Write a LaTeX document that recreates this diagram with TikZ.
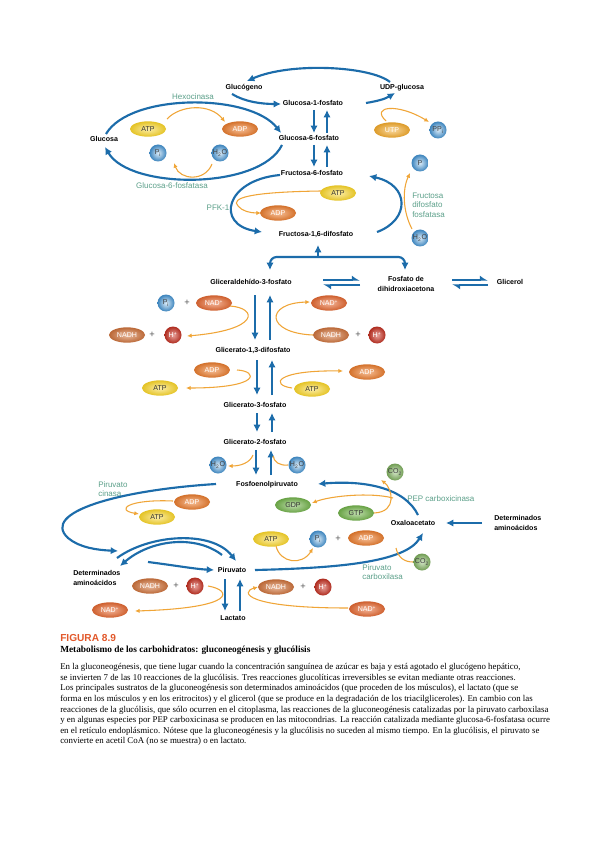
\documentclass[tikz,border=0pt]{standalone}
\usepackage{fontspec}
\setmainfont{Liberation Serif}
\newfontfamily\arialf{Liberation Sans}
\usetikzlibrary{arrows.meta,shapes.geometric}
\definecolor{bblue}{RGB}{28,108,170}
\definecolor{oline}{RGB}{240,165,55}
\definecolor{enzg}{RGB}{92,160,138}
\definecolor{cyel}{RGB}{248,212,40}
\definecolor{cora}{RGB}{240,128,48}
\definecolor{cnadh}{RGB}{212,118,62}
\definecolor{cnad}{RGB}{234,108,52}
\definecolor{cred}{RGB}{205,50,35}
\definecolor{cblu}{RGB}{70,155,222}
\definecolor{cgrn}{RGB}{118,184,78}
\definecolor{cco}{RGB}{132,184,98}
\definecolor{cutp}{RGB}{245,172,45}
\definecolor{figred}{RGB}{226,88,42}
\newcommand\labfont{\arialf\bfseries\fontsize{5.3}{6.2}\selectfont}
\newcommand\labfontm{\arialf\bfseries\fontsize{5.3}{7.5}\selectfont}
\newcommand\enzfont{\arialf\fontsize{6}{7.2}\selectfont}
\newcommand\molfont{\arialf\fontsize{5.3}{6}\selectfont}
\newcommand\capfont{\fontsize{6.65}{8}\selectfont}
\tikzset{
  lab/.style={font=\labfont, inner sep=1pt, text height=4pt, text depth=1pt},
  labm/.style={font=\labfontm, inner sep=0pt, align=left},
  enz/.style={font=\enzfont, text=enzg, inner sep=0pt, align=left},
  ba/.style={draw=bblue, line width=1.6pt, -{Latex[length=5.5pt,width=5.5pt]}},
  bl/.style={draw=bblue, line width=1.6pt},
  oa/.style={draw=oline, line width=0.8pt, -{Latex[length=3.5pt,width=3.2pt]}},
  ol/.style={draw=oline, line width=0.8pt},
  harp/.style={draw=bblue, line width=1.3pt, -{Latex[harpoon,length=5pt,width=7pt]}},
  mol/.style={ellipse, minimum width=27pt, minimum height=11.5pt, inner sep=0pt, font=\molfont},
  yel/.style={mol, shade, inner color=cyel!40!white, outer color=cyel!92!black, text=black!80},
  ora/.style={mol, shade, inner color=cora!50!white, outer color=cora!88!black, text=white},
  utpst/.style={mol, shade, inner color=cutp!45!white, outer color=cutp!90!black, text=white},
  nadh/.style={mol, shade, inner color=cnadh!50!white, outer color=cnadh!88!black, text=white},
  nad/.style={mol, shade, inner color=cnad!50!white, outer color=cnad!88!black, text=white},
  grn/.style={mol, shade, inner color=cgrn!45!white, outer color=cgrn!88!black, text=black!80},
  molball/.style={circle, minimum size=12.75pt, inner sep=0pt, font=\molfont},
  bb/.style={molball, shade, inner color=cblu!20!white, outer color=cblu!85!black, text=black!75},
  rb/.style={molball, shade, inner color=cred!45!white, outer color=cred!85!black, text=white},
  gb/.style={molball, shade, inner color=cco!35!white, outer color=cco!85!black, text=black!75},
  plussign/.style={font=\arialf\fontsize{7}{8}\selectfont, text=black!65, inner sep=0pt},
  capl/.style={font=\capfont, anchor=base west, inner sep=0pt},
}
\begin{document}
\begin{tikzpicture}[x=0.75pt,y=-0.75pt]
\useasboundingbox (0,0) rectangle (599,848);
\fill[white] (0,0) rectangle (599,848);

% ---------- main labels
\node[lab] (glucogeno) at (244,88) {Glucógeno};
\node[lab] (udp) at (402,88) {UDP-glucosa};
\node[lab] (g1p) at (313,104) {Glucosa-1-fosfato};
\node[lab] (glc) at (104,140) {Glucosa};
\node[lab] (g6p) at (309,139) {Glucosa-6-fosfato};
\node[lab] (f6p) at (312,174) {Fructosa-6-fosfato};
\node[lab] (f16) at (316,235) {Fructosa-1,6-difosfato};
\node[lab] (g3p) at (251,282) {Gliceraldehído-3-fosfato};
\node[labm, align=center] (dhap) at (406,284) {Fosfato de\\dihidroxiacetona};
\node[lab] (glicerol) at (510,283) {Glicerol};
\node[lab] (g13) at (253,350) {Glicerato-1,3-difosfato};
\node[lab] (g3) at (255,405) {Glicerato-3-fosfato};
\node[lab] (g2) at (255,442) {Glicerato-2-fosfato};
\node[lab] (pep) at (267,484) {Fosfoenolpiruvato};
\node[lab] (oaa) at (413,523) {Oxaloacetato};
\node[labm, anchor=west] (detr) at (494,523) {Determinados\\aminoácidos};
\node[labm, anchor=west] (detl) at (73,578) {Determinados\\aminoácidos};
\node[lab] (pir) at (232,570) {Piruvato};
\node[lab] (lac) at (233,618) {Lactato};

% ---------- enzymes
\node[enz] (hexo) at (193,97) {Hexocinasa};
\node[enz] (g6pase) at (172,186) {Glucosa-6-fosfatasa};
\node[enz] (pfk) at (218,208) {PFK-1};
\node[enz, anchor=west] (fbp) at (412,205) {Fructosa\\difosfato\\fosfatasa};
\node[enz, anchor=west] (pk) at (98,489) {Piruvato\\cinasa};
\node[enz, anchor=west] (pepck) at (407,499) {PEP carboxicinasa};
\node[enz, anchor=west] (pc) at (362,572) {Piruvato\\carboxilasa};

% ---------- molecules
\node[yel] (atp1) at (148,129) {ATP};
\node[ora] (adp1) at (240,129) {ADP};
\node[bb] (pi1) at (158,153) {P\textsubscript{i}};
\node[bb] (h2o1) at (220,153) {H\textsubscript{2}O};
\node[utpst] (utp) at (392,130) {UTP};
\node[bb] (ppi) at (438,130) {PP\textsubscript{i}};
\node[bb] (p2) at (420,163) {P};
\node[yel] (atp2) at (338,193) {ATP};
\node[ora] (adp2) at (278,213) {ADP};
\node[bb] (h2o2) at (420,238) {H\textsubscript{2}O};

\node[bb] (pi3) at (166,303) {P\textsubscript{i}};
\node[plussign] (pl1) at (187,303) {+};
\node[nad] (nad1) at (214,303) {NAD\textsuperscript{+}};
\node[nadh] (nadh1) at (127,335) {NADH};
\node[plussign] (pl2) at (152,335) {+};
\node[rb] (h1) at (173,335) {H\textsuperscript{+}};
\node[nad] (nad2) at (329,303) {NAD\textsuperscript{+}};
\node[nadh] (nadh2) at (331,335) {NADH};
\node[plussign] (pl3) at (358,335) {+};
\node[rb] (h2) at (377,335) {H\textsuperscript{+}};

\node[ora] (adp3) at (212,370) {ADP};
\node[yel] (atp3) at (160,388) {ATP};
\node[yel] (atp4) at (312,389) {ATP};
\node[ora] (adp4) at (367,372) {ADP};

\node[bb] (h2o3) at (218,465) {H\textsubscript{2}O};
\node[bb] (h2o4) at (297,465) {H\textsubscript{2}O};

\node[gb] (co2a) at (395,472) {CO\textsubscript{2}};
\node[grn] (gdp) at (293,505) {GDP};
\node[grn] (gtp) at (356,513) {GTP};
\node[ora] (adp5) at (192,502) {ADP};
\node[yel] (atp5) at (157,517) {ATP};
\node[yel] (atp6) at (271,539) {ATP};
\node[bb] (pi6) at (318,539) {P\textsubscript{i}};
\node[plussign] (pl4) at (338,539) {+};
\node[ora] (adp6) at (366,538) {ADP};
\node[gb] (co2b) at (422,562) {CO\textsubscript{2}};

\node[nadh] (nadh3) at (150,586) {NADH};
\node[plussign] (pl5) at (176,586) {+};
\node[rb] (h3) at (195,586) {H\textsuperscript{+}};
\node[nad] (nad3) at (110,610) {NAD\textsuperscript{+}};
\node[nadh] (nadh4) at (276,587) {NADH};
\node[plussign] (pl6) at (303,587) {+};
\node[rb] (h4) at (323,587) {H\textsuperscript{+}};
\node[nad] (nad4) at (367,609) {NAD\textsuperscript{+}};

% ---------- blue connectors, top
\draw[ba] (390,82) .. controls (370,66) and (290,62) .. (247,81);
\draw[ba] (232,94) .. controls (245,102) and (262,104) .. (281,104);
\draw[ba] (366,103) .. controls (378,101) and (385,99) .. (395,93);
\draw[ba] (106,134) .. controls (130,93) and (250,93) .. (281,133);
\draw[ba] (282,145) .. controls (260,190) and (130,190) .. (105,147);
\draw[ba] (314,110) -- (314,133);
\draw[ba] (327,133) -- (327,110);
\draw[ba] (314,145) -- (314,167);
\draw[ba] (327,167) -- (327,145);
\draw[ba] (280,175) .. controls (225,180) and (215,225) .. (262,232);
\draw[ba] (377,232) .. controls (410,220) and (410,185) .. (369,176);
\draw[ba] (318,257) -- (318,245);
\draw[bl, rounded corners=5pt, {Latex[length=5.5pt,width=5.5pt]}-{Latex[length=5.5pt,width=5.5pt]}] (270,270) -- (270,257) -- (405,257) -- (405,270);
\draw[harp] (323,280) -- (360,280);
\draw[harp] (360,285) -- (323,285);
\draw[harp] (452,280) -- (488,280);
\draw[harp] (488,285) -- (452,285);
\draw[ba] (255,295) -- (255,340);
\draw[ba] (270,340) -- (270,295);
\draw[ba] (257,360) -- (257,395);
\draw[ba] (272,395) -- (272,360);
\draw[ba] (257,413) -- (257,432);
\draw[ba] (272,432) -- (272,413);
\draw[ba] (256,450) -- (256,475);
\draw[ba] (271,475) -- (271,450);
\draw[ba] (225,579) -- (225,611);
\draw[ba] (240,611) -- (240,579);

% ---------- blue connectors, bottom
\draw[ba] (216,484) .. controls (120,490) and (40,512) .. (68,538) .. controls (80,548) and (98,550) .. (118,551);
\draw[ba] (117,558) .. controls (150,534) and (212,530) .. (236,561);
\draw[ba] (222,555) .. controls (195,534) and (150,540) .. (120,566);
\draw[ba] (148,562) .. controls (172,565) and (195,569) .. (214,570);
\draw[ba] (255,570) .. controls (340,568) and (405,562) .. (423,533);
\draw[ba] (418,515) .. controls (405,488) and (365,480) .. (318,484);
\draw[ba] (482,523) -- (446,523);

% ---------- orange connectors
\draw[oa] (167,119) .. controls (180,105) and (210,103) .. (225,122);
\draw[oa] (212,164) .. controls (205,182) and (180,180) .. (174,163);
\draw[oa] (386,121) .. controls (370,106) and (398,103) .. (429,122);
\draw[oa] (321,191) .. controls (250,192) and (230,198) .. (238,206) .. controls (242,211) and (250,213) .. (261,213);
\draw[oa] (412,229) .. controls (403,212) and (402,190) .. (410,173);
\draw[oa] (230,306) .. controls (258,308) and (260,330) .. (187,336);
\draw[oa] (313,335) .. controls (265,333) and (265,303) .. (310,302);
\draw[oa] (237,370) .. controls (258,371) and (262,388) .. (186,388);
\draw[oa] (292,388) .. controls (270,385) and (275,370) .. (343,371);
\draw[oa] (253,455) .. controls (250,463) and (240,466) .. (228,466);
\draw[ol] (288,465) .. controls (280,466) and (274,462) .. (273,456);
\draw[oa] (173,501) .. controls (128,499) and (115,510) .. (139,514);
\draw[oa] (374,513) .. controls (398,512) and (392,488) .. (381,480);
\draw[oa] (393,498) .. controls (370,492) and (330,496) .. (312,503);
\draw[oa] (276,546) .. controls (280,563) and (302,566) .. (313,548);
\draw[ol] (396,548) .. controls (398,558) and (405,562) .. (413,562);
\draw[oa] (208,586) .. controls (232,590) and (238,608) .. (135,611);
\draw[oa] (348,608) .. controls (245,608) and (240,592) .. (258,587);

% ---------- caption
\node[anchor=base west, inner sep=0pt, text=figred, font=\arialf\bfseries\fontsize{7.6}{9}\selectfont] (fig) at (60,641) {FIGURA 8.9};
\node[anchor=base west, inner sep=0pt, font=\bfseries\fontsize{7}{8}\selectfont] (tit) at (60,652.5) {Metabolismo de los carbohidratos: gluconeogénesis y glucólisis};
\node[capl] (c1) at (60,669.7) {En la gluconeogénesis, que tiene lugar cuando la concentración sanguínea de azúcar es baja y está agotado el glucógeno hepático,};
\node[capl] (c2) at (60,680.3) {se invierten 7 de las 10 reacciones de la glucólisis. Tres reacciones glucolíticas irreversibles se evitan mediante otras reacciones.};
\node[capl] (c3) at (60,690.9) {Los principales sustratos de la gluconeogénesis son determinados aminoácidos (que proceden de los músculos), el lactato (que se};
\node[capl] (c4) at (60,701.5) {forma en los músculos y en los eritrocitos) y el glicerol (que se produce en la degradación de los triacilgliceroles). En cambio con las};
\node[capl] (c5) at (60,712.1) {reacciones de la glucólisis, que sólo ocurren en el citoplasma, las reacciones de la gluconeogénesis catalizadas por la piruvato carboxilasa};
\node[capl] (c6) at (60,722.7) {y en algunas especies por PEP carboxicinasa se producen en las mitocondrias. La reacción catalizada mediante glucosa-6-fosfatasa ocurre};
\node[capl] (c7) at (60,733.3) {en el retículo endoplásmico. Nótese que la gluconeogénesis y la glucólisis no suceden al mismo tiempo. En la glucólisis, el piruvato se};
\node[capl] (c8) at (60,743.9) {convierte en acetil CoA (no se muestra) o en lactato.};
\end{tikzpicture}
\end{document}
